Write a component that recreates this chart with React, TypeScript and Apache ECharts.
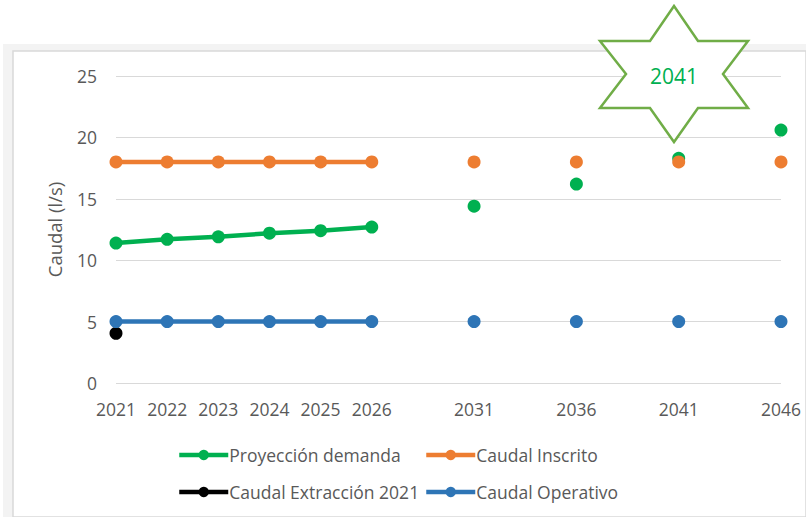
import React, { useEffect, useRef } from "react";
import * as echarts from "echarts";

const categories = ["2021", "2022", "2023", "2024", "2025", "2026", "", "2031", "", "2036", "", "2041", "", "2046"];
const proyeccionDemanda = [11.4, 11.7, 11.9, 12.2, 12.4, 12.7, null, 14.4, null, 16.2, null, 18.3, null, 20.6];
const caudalInscrito = [18, 18, 18, 18, 18, 18, null, 18, null, 18, null, 18, null, 18];
const caudalExtraccion2021 = [4.05, null, null, null, null, null, null, null, null, null, null, null, null, null];
const caudalOperativo = [5, 5, 5, 5, 5, 5, null, 5, null, 5, null, 5, null, 5];
const yTicks = [0, 5, 10, 15, 20, 25];
const seriesNames = ["Proyección demanda", "Caudal Inscrito", "Caudal Extracción 2021", "Caudal Operativo"];
const seriesColors = ["#00B050", "#ED7D31", "#000000", "#2E75B6"];
const starLabel = "2041";

const FONT = "'Open Sans', 'Noto Sans', sans-serif";
const GREY = "#595959";

export default function App() {
  const ref = useRef<HTMLDivElement>(null);
  useEffect(() => {
    if (!ref.current) return;
    const chart = echarts.init(ref.current, null, { renderer: "svg" });
    const values = [proyeccionDemanda, caudalInscrito, caudalExtraccion2021, caudalOperativo];
    const series = seriesNames.map((name, i) => ({
      name,
      type: "line",
      data: values[i],
      connectNulls: false,
      symbol: "circle",
      symbolSize: 13,
      showSymbol: true,
      showAllSymbol: true,
      lineStyle: { width: 4.5, color: seriesColors[i] },
      itemStyle: { color: seriesColors[i] },
      z: 2 + i,
    }));
    const legendPos = [
      { left: 177, top: 446 },
      { left: 424, top: 446 },
      { left: 177, top: 483 },
      { left: 424, top: 483 },
    ];
    const legends = seriesNames.map((name, i) => ({
      data: [name],
      left: legendPos[i].left,
      top: legendPos[i].top,
      orient: "horizontal",
      itemWidth: 49,
      itemHeight: 13,
      padding: 0,
      lineStyle: { width: 4.5 },
      textStyle: { fontFamily: FONT, fontSize: 17.5, color: GREY, padding: [0, 0, 0, -4] },
    }));
    const starPts: number[][] = [
      [674, 6], [698, 41], [748, 41], [723, 74], [748, 108], [698, 108],
      [674, 142], [650, 108], [600, 108], [626, 74], [600, 41], [650, 41],
    ];
    chart.setOption({
      animation: false,
      backgroundColor: "#ffffff",
      graphic: [
        { type: "rect", shape: { x: 3, y: 44, width: 803, height: 473 }, style: { fill: "#f3f3f3" }, z: -10, silent: true },
        { type: "rect", shape: { x: 13, y: 51, width: 793, height: 466 }, style: { fill: "#ffffff", stroke: "#d9d9d9", lineWidth: 1.5 }, z: -9, silent: true },
        {
          type: "polygon",
          shape: { points: starPts },
          style: { fill: "#ffffff", stroke: "#70AD47", lineWidth: 2.5 },
          z: 100,
        },
        {
          type: "text",
          x: 674,
          y: 76,
          style: { text: starLabel, fill: "#00B050", font: `21px ${FONT}`, align: "center", verticalAlign: "middle" },
          z: 101,
        },
      ],
      grid: { left: 116, right: 25, top: 76, bottom: 134 },
      legend: legends,
      xAxis: {
        type: "category",
        data: categories,
        boundaryGap: false,
        axisLine: { show: false },
        axisTick: { show: false },
        axisLabel: { interval: 0, color: GREY, fontFamily: FONT, fontSize: 17.5, margin: 17 },
        splitLine: { show: false },
      },
      yAxis: {
        type: "value",
        min: yTicks[0],
        max: yTicks[yTicks.length - 1],
        interval: 5,
        name: "Caudal (l/s)",
        nameLocation: "middle",
        nameGap: 52,
        nameRotate: 90,
        nameTextStyle: { color: GREY, fontFamily: FONT, fontSize: 18.5 },
        axisLine: { show: false },
        axisTick: { show: false },
        axisLabel: { color: GREY, fontFamily: FONT, fontSize: 17.5, margin: 19 },
        splitLine: { lineStyle: { color: "#d9d9d9", width: 1.2 } },
      },
      series,
    });
    return () => chart.dispose();
  }, []);
  return <div ref={ref} style={{ position: "fixed", left: 0, top: 0, width: 806, height: 517 }} />;
}
